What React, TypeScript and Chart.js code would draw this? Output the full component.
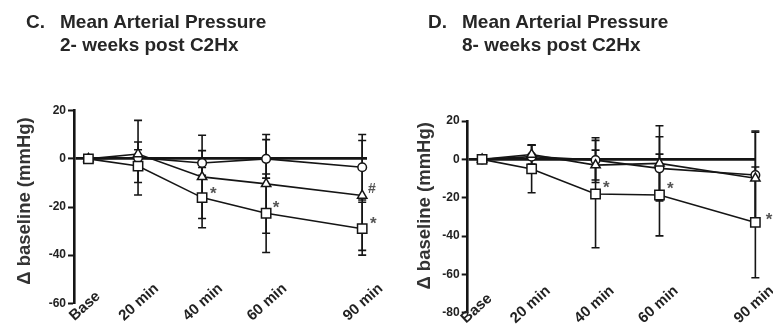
import React, { useEffect, useRef } from 'react';
import { Chart, registerables } from 'chart.js';

Chart.register(...registerables);

// ---- shared x axis ----
const timeLabels = ['Base', '20 min', '40 min', '60 min', '90 min'];
const timePositions = [4.5, 20, 40, 60, 90];

// ---- Panel C: 2 weeks post C2Hx ----
const week2Circle = [0, 0.5, -1.7, 0, -3.5];
const week2CircleSd = [0, 15.5, 5.1, 8, 13.6];
const week2Triangle = [0, 2, -7.5, -10.4, -15.2];
const week2TriangleSd = [0, 5, 17.3, 20.5, 22.8];
const week2Square = [0, -3, -16.1, -22.6, -29];
const week2SquareSd = [0, 6.8, 12.5, 16.3, 11];
const week2MarkText = ['*', '*', '#', '*'];
const week2MarkX = [43.5, 63.1, 93, 93.5];
const week2MarkY = [-12.4, -18.2, -12, -25.1];

// ---- Panel D: 8 weeks post C2Hx ----
const week8Circle = [0, 1.4, -0.4, -4.7, -8.2];
const week8CircleSd = [0, 6, 11.7, 16.5, 23];
const week8Triangle = [0, 2.5, -3, -2.1, -9.9];
const week8TriangleSd = [0, 5, 7.8, 19.6, 24];
const week8Square = [0, -5, -18.1, -18.6, -32.9];
const week8SquareSd = [0, 12.4, 28, 21.3, 28.9];
const week8MarkText = ['*', '*', '*'];
const week8MarkX = [43.4, 63.4, 94.3];
const week8MarkY = [-12.2, -13.1, -29.1];

const yTitleText = 'Δ baseline (mmHg)';
const FONT = '"Liberation Sans", Arial, Helvetica, sans-serif';
const INK = '#151515';

type PanelProps = {
  circle: number[]; circleSd: number[];
  triangle: number[]; triangleSd: number[];
  square: number[]; squareSd: number[];
  markText: string[]; markX: number[]; markY: number[];
  yMin: number; yMax: number; xMax: number;
  width: number; height: number;
  padTop: number; padRight: number; yAxisWidth: number; xAxisHeight: number;
  titleX: number; titleDy: number;
  labelDx: number; labelDy: number;
};

function Panel(p: PanelProps) {
  const ref = useRef<HTMLCanvasElement | null>(null);
  useEffect(() => {
    if (!ref.current) return;
    const series = [
      { values: p.square, sd: p.squareSd, style: 'rect', radius: 6.6 },
      { values: p.triangle, sd: p.triangleSd, style: 'triangle', radius: 5.4 },
      { values: p.circle, sd: p.circleSd, style: 'circle', radius: 4.3 },
    ];

    const errorBars = {
      id: 'errorBars',
      beforeDatasetsDraw(chart: any) {
        const ctx = chart.ctx;
        const ys = chart.scales.y;
        ctx.save();
        ctx.strokeStyle = INK;
        ctx.lineWidth = 1.6;
        series.forEach((s, di) => {
          const meta = chart.getDatasetMeta(di);
          meta.data.forEach((pt: any, j: number) => {
            const sd = s.sd[j];
            if (!sd) return;
            const yt = ys.getPixelForValue(s.values[j] + sd);
            const yb = ys.getPixelForValue(s.values[j] - sd);
            const x = pt.x;
            ctx.beginPath();
            ctx.moveTo(x, yt); ctx.lineTo(x, yb);
            ctx.moveTo(x - 4, yt); ctx.lineTo(x + 4, yt);
            ctx.moveTo(x - 4, yb); ctx.lineTo(x + 4, yb);
            ctx.stroke();
          });
        });
        ctx.restore();
      },
    };

    const marks = {
      id: 'marks',
      afterDatasetsDraw(chart: any) {
        const ctx = chart.ctx;
        const xs = chart.scales.x;
        const ys = chart.scales.y;
        ctx.save();
        ctx.fillStyle = '#555';
        ctx.textAlign = 'center';
        ctx.textBaseline = 'alphabetic';
        p.markText.forEach((t, i) => {
          const x = xs.getPixelForValue(p.markX[i]);
          const y = ys.getPixelForValue(p.markY[i]);
          const fs = t === '*' ? 17 : 14;
          ctx.font = `bold ${fs}px ${FONT}`;
          const lift = t === '*' ? 0.58 : 0.36;
          ctx.fillText(t, x, y + lift * fs);
        });
        ctx.restore();
      },
    };

    const textLayer = {
      id: 'textLayer',
      afterDraw(chart: any) {
        const ctx = chart.ctx;
        const a = chart.chartArea;
        const xs = chart.scales.x;
        // y axis title
        ctx.save();
        ctx.translate(p.titleX, (a.top + a.bottom) / 2 + p.titleDy);
        ctx.rotate(-Math.PI / 2);
        ctx.font = `bold 18.5px ${FONT}`;
        ctx.fillStyle = '#333';
        ctx.textAlign = 'center';
        ctx.textBaseline = 'middle';
        ctx.fillText(yTitleText, 0, 0);
        ctx.restore();
        // rotated x tick labels (start-anchored, like the original)
        const ang = (42 * Math.PI) / 180;
        ctx.save();
        ctx.font = `bold 15px ${FONT}`;
        ctx.fillStyle = '#222';
        ctx.textAlign = 'left';
        ctx.textBaseline = 'alphabetic';
        timeLabels.forEach((lab, i) => {
          const x = xs.getPixelForValue(timePositions[i]) + p.labelDx;
          const y = a.bottom + p.labelDy;
          ctx.save();
          ctx.translate(x, y);
          ctx.rotate(-ang);
          ctx.fillText(lab, 0, 0);
          ctx.restore();
        });
        ctx.restore();
      },
    };

    const chart = new Chart(ref.current, {
      type: 'line',
      data: {
        datasets: series.map((s) => ({
          data: timePositions.map((x, i) => ({ x, y: s.values[i] })),
          pointStyle: s.style as any,
          pointRadius: s.radius,
          pointBackgroundColor: '#fff',
          pointBorderColor: INK,
          pointBorderWidth: 1.5,
          borderColor: INK,
          borderWidth: 1.6,
          fill: false,
          tension: 0,
          clip: false as any,
        })),
      },
      options: {
        responsive: false,
        animation: false,
        events: [],
        layout: { padding: { top: p.padTop, right: p.padRight, bottom: 0, left: 0 } },
        plugins: { legend: { display: false }, tooltip: { enabled: false }, title: { display: false } },
        scales: {
          x: {
            type: 'linear',
            min: 0,
            max: p.xMax,
            border: { display: false },
            grid: { display: false, drawTicks: false },
            afterBuildTicks: (s: any) => { s.ticks = timePositions.map((v) => ({ value: v })); },
            afterFit: (s: any) => { s.height = p.xAxisHeight; },
            ticks: { display: false, autoSkip: false },
          },
          y: {
            min: p.yMin,
            max: p.yMax,
            border: { display: true, color: INK, width: 2.6 },
            grid: {
              color: (c: any) => (c.tick && c.tick.value === 0 ? INK : 'rgba(0,0,0,0)'),
              lineWidth: (c: any) => (c.tick && c.tick.value === 0 ? 2.8 : 1),
              tickColor: INK,
              tickWidth: 2,
              tickLength: 6,
              drawTicks: true,
            },
            afterFit: (s: any) => { s.width = p.yAxisWidth; },
            ticks: {
              stepSize: 20,
              padding: 2,
              color: '#222',
              font: { family: FONT, size: 12, weight: 'bold' },
            },
          },
        },
      } as any,
      plugins: [errorBars, marks, textLayer],
    });
    return () => chart.destroy();
  }, []);
  return <canvas ref={ref} width={p.width} height={p.height} style={{ display: 'block', width: p.width, height: p.height }} />;
}

const titleStyle: React.CSSProperties = {
  position: 'absolute',
  top: 10.2,
  fontFamily: FONT,
  fontWeight: 'bold',
  fontSize: 19,
  lineHeight: '23px',
  color: '#262626',
  whiteSpace: 'nowrap',
};

export default function App() {
  return (
    <div style={{ position: 'fixed', left: 0, top: 0, width: 773, height: 331, background: '#fff', overflow: 'hidden' }}>
      <div style={{ position: 'absolute', left: 0, top: 0 }}>
        <Panel
          circle={week2Circle} circleSd={week2CircleSd}
          triangle={week2Triangle} triangleSd={week2TriangleSd}
          square={week2Square} squareSd={week2SquareSd}
          markText={week2MarkText} markX={week2MarkX} markY={week2MarkY}
          yMin={-60} yMax={20} xMax={91.5}
          width={390} height={331}
          padTop={110.7} padRight={23} yAxisWidth={74} xAxisHeight={27.7}
          titleX={25} titleDy={-6}
          labelDx={-14} labelDy={18}
        />
      </div>
      <div style={{ position: 'absolute', left: 390, top: 0 }}>
        <Panel
          circle={week8Circle} circleSd={week8CircleSd}
          triangle={week8Triangle} triangleSd={week8TriangleSd}
          square={week8Square} squareSd={week8SquareSd}
          markText={week8MarkText} markX={week8MarkX} markY={week8MarkY}
          yMin={-80} yMax={20} xMax={90.2}
          width={383} height={331}
          padTop={121} padRight={17} yAxisWidth={77.7} xAxisHeight={18.3}
          titleX={35} titleDy={-11}
          labelDx={-16} labelDy={11}
        />
      </div>
      <div style={{ ...titleStyle, left: 26 }}>C.</div>
      <div style={{ ...titleStyle, left: 60 }}>Mean Arterial Pressure<br />2- weeks post C2Hx</div>
      <div style={{ ...titleStyle, left: 428 }}>D.</div>
      <div style={{ ...titleStyle, left: 462 }}>Mean Arterial Pressure<br />8- weeks post C2Hx</div>
    </div>
  );
}
